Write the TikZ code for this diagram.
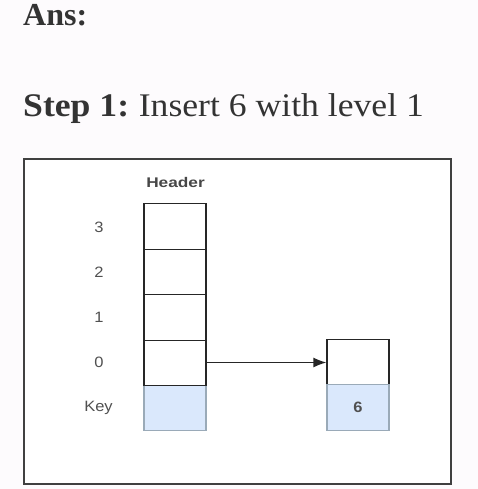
\documentclass[tikz,border=0pt]{standalone}
\usepackage{fontspec}
\setmainfont{Liberation Serif}
\setsansfont{Liberation Sans}
\usetikzlibrary{arrows.meta}
\definecolor{bgc}{HTML}{FDFBFD}
\definecolor{keyfill}{HTML}{DAE8FC}
\definecolor{keydraw}{HTML}{9AAAB8}
\definecolor{txt}{HTML}{333333}
\definecolor{lbl}{HTML}{505050}
\tikzset{
  cell/.style={draw=black!85, fill=white, minimum width=62pt, minimum height=45.5pt, inner sep=0pt, line width=1.2pt},
  keycell/.style={cell, draw=keydraw, fill=keyfill},
  lab/.style={font=\sffamily\fontsize{15}{17}\selectfont, text=lbl, xscale=1.1, inner sep=0pt},
}
\begin{document}
\begin{tikzpicture}[x=1pt,y=-1pt]
\fill[bgc] (0,0) rectangle (478,489);
\useasboundingbox (0,0) rectangle (478,489);
\node[anchor=base west, inner sep=0pt, text=txt, font=\bfseries\fontsize{32}{36}\selectfont] (ans) at (23,26) {Ans:};
\node[anchor=base west, inner sep=0pt, text=txt, xscale=1.08, font=\fontsize{33}{38}\selectfont] (step) at (23,117) {\textbf{Step 1:}\hspace{-2pt} Insert 6 with level 1};
\node[draw=black!75, line width=1.5pt, fill=white, minimum width=427pt, minimum height=325pt, inner sep=0pt, anchor=north west] (frame) at (23,158) {};
\node[lab, font=\sffamily\bfseries\fontsize{14}{16}\selectfont, xscale=1.12, text=txt!90] (hdr) at (175.5,182) {Header};
\node[keycell] (hk) at (175,407.5) {};
\node[cell] (h0) at (175,362.5) {};
\node[cell] (h1) at (175,317.5) {};
\node[cell] (h2) at (175,272) {};
\node[cell] (h3) at (175,226.5) {};
\node[cell] (n0) at (358,362.5) {};
\node[keycell] (nk) at (358,407.5) {};
\node[lab, font=\sffamily\bfseries\fontsize{15}{17}\selectfont, text=lbl] (six) at (nk) {6};
\node[lab] (l3) at (99,227) {3};
\node[lab] (l2) at (99,272) {2};
\node[lab] (l1) at (99,317) {1};
\node[lab] (l0) at (99,362) {0};
\node[lab] (lk) at (98.5,408) {Key};
\draw[line width=1.3pt, black!85, -{Latex[length=13pt,width=10pt]}] (h0.east) -- (n0.west);
\end{tikzpicture}
\end{document}
